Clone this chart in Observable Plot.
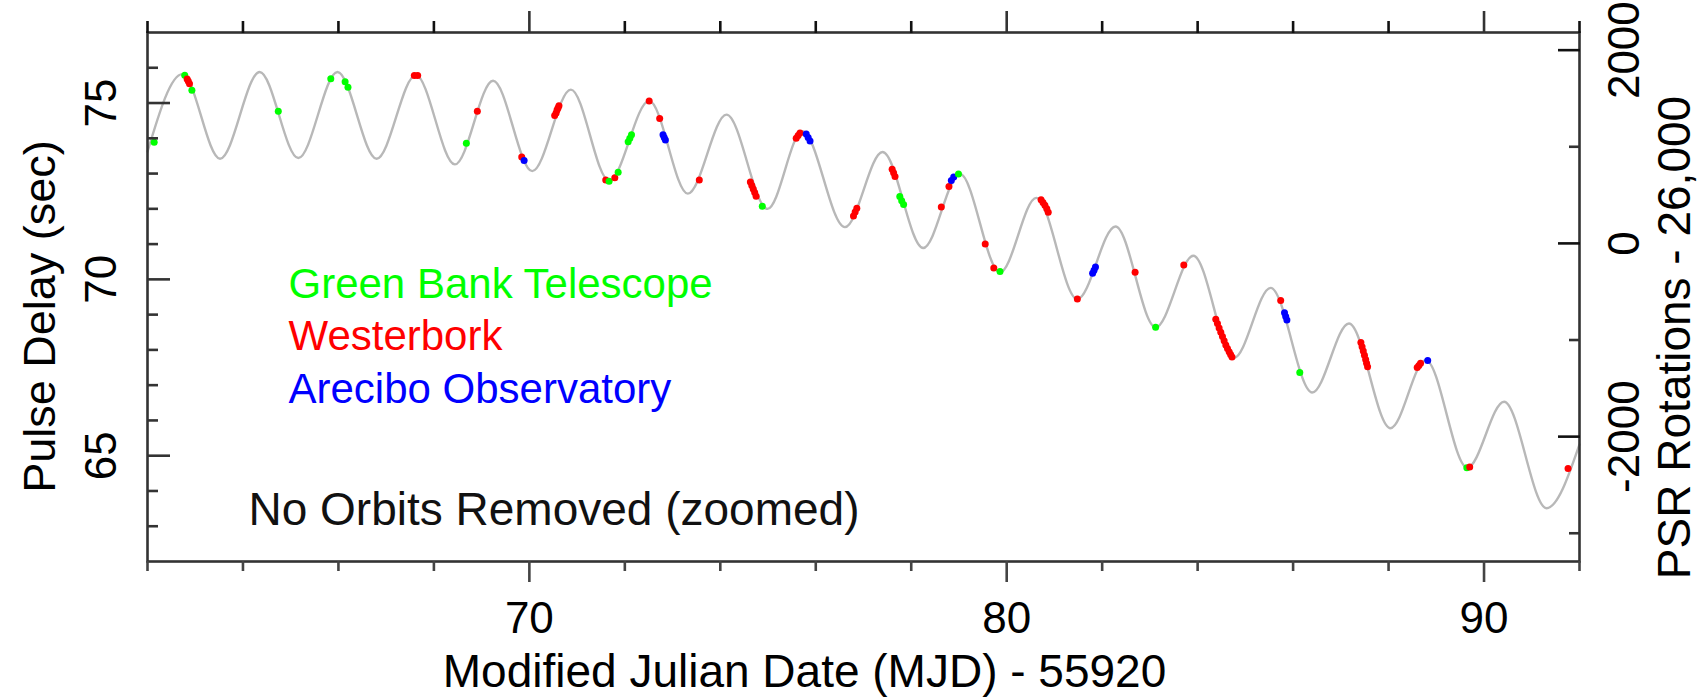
<!DOCTYPE html>
<html><head><meta charset="utf-8">
<script src="https://cdn.jsdelivr.net/npm/d3@7"></script>
<script src="https://cdn.jsdelivr.net/npm/@observablehq/plot@0.6"></script>
<style>html,body{margin:0;padding:0;background:#fff;}</style>
</head><body><div id="chart"></div>
<script>
// ---- data ----
// timing-model curve: extrema (days = MJD - 55920, pulse delay in s)
const curveDay = [62.00, 62.73, 63.52, 64.35, 65.16, 65.98, 66.80, 67.62, 68.44, 69.24, 70.06, 70.87, 71.67, 72.51, 73.32, 74.13, 74.99, 75.72, 76.61, 77.40, 78.25, 79.02, 79.86, 80.62, 81.48, 82.28, 83.12, 83.91, 84.76, 85.53, 86.40, 87.17, 88.04, 88.78, 89.65, 90.42, 91.31, 92.00];
const curveDelay = [73.62, 75.82, 73.42, 75.88, 73.44, 75.88, 73.42, 75.79, 73.26, 75.63, 73.07, 75.38, 72.80, 75.06, 72.43, 74.67, 72.00, 74.20, 71.48, 73.61, 70.89, 72.99, 70.20, 72.31, 69.44, 71.50, 68.64, 70.67, 67.77, 69.76, 66.79, 68.75, 65.78, 67.71, 64.66, 66.53, 63.51, 65.32];

// observations (G = Green Bank, W = Westerbork, A = Arecibo)
const obsDay = [62.14, 62.78, 62.83, 62.855, 62.88, 62.93, 64.74, 65.84, 66.14, 66.20, 67.59, 67.66, 68.68, 68.91, 69.84, 69.89, 70.53, 70.56, 70.58, 70.60, 70.62, 71.60, 71.67, 71.79, 71.86, 72.07, 72.105, 72.14, 72.51, 72.73, 72.80, 72.825, 72.85, 73.56, 74.63, 74.66, 74.69, 74.72, 74.75, 74.88, 75.59, 75.63, 75.67, 75.80, 75.84, 75.88, 76.79, 76.825, 76.86, 77.60, 77.63, 77.66, 77.76, 77.80, 77.84, 78.63, 78.79, 78.84, 78.89, 78.99, 79.55, 79.73, 79.86, 80.72, 80.76, 80.80, 80.84, 80.87, 81.48, 81.80, 81.83, 81.86, 82.69, 83.12, 83.71, 84.38, 84.415, 84.45, 84.485, 84.52, 84.555, 84.59, 84.625, 84.66, 84.69, 84.72, 85.74, 85.82, 85.845, 85.87, 86.14, 87.42, 87.445, 87.47, 87.495, 87.52, 87.54, 87.56, 88.60, 88.635, 88.67, 88.82, 89.64, 89.70, 91.76];
const obsDelay = [73.89, 75.79, 75.68, 75.62, 75.55, 75.36, 74.77, 75.69, 75.60, 75.45, 75.78, 75.78, 73.86, 74.77, 73.47, 73.37, 74.65, 74.72, 74.80, 74.86, 74.92, 72.82, 72.78, 72.88, 73.04, 73.90, 74.00, 74.10, 75.06, 74.56, 74.10, 74.02, 73.95, 72.82, 72.76, 72.66, 72.56, 72.46, 72.36, 72.07, 74.00, 74.08, 74.15, 74.12, 74.02, 73.92, 71.80, 71.91, 72.02, 73.12, 73.02, 72.92, 72.35, 72.23, 72.12, 72.05, 72.63, 72.80, 72.90, 72.99, 71.00, 70.32, 70.22, 72.26, 72.18, 72.10, 72.00, 71.90, 69.44, 70.17, 70.26, 70.35, 70.20, 68.64, 70.41, 68.87, 68.75, 68.62, 68.50, 68.38, 68.26, 68.14, 68.04, 67.95, 67.87, 67.80, 69.40, 69.05, 68.95, 68.85, 67.36, 68.21, 68.09, 67.97, 67.85, 67.73, 67.62, 67.52, 67.50, 67.56, 67.62, 67.70, 64.66, 64.68, 64.64];
const obsSite = ["G","G","W","W","W","G","G","G","G","G","W","W","G","W","W","A","W","W","W","W","W","W","G","W","G","G","G","G","W","W","A","A","A","W","W","W","W","W","W","G","W","W","W","A","A","A","W","W","W","W","W","W","G","G","G","W","W","A","A","G","W","W","G","W","W","W","W","W","W","A","A","A","W","G","W","W","W","W","W","W","W","W","W","W","W","W","W","A","A","A","G","W","W","W","W","W","W","W","W","W","W","A","G","W","W"];

const siteCodes = ["G", "W", "A"];
const siteNames = ["Green Bank Telescope", "Westerbork", "Arecibo Observatory"];
const siteColors = ["#00ff00", "#ff0000", "#0000ff"];

// axis ticks
const xMajor = [70, 80, 90];
const xMinor = [62, 64, 66, 68, 72, 74, 76, 78, 82, 84, 86, 88, 92];
const yMajor = [65, 70, 75];
const yMinor = [63, 64, 66, 67, 68, 69, 71, 72, 73, 74, 76];
const rotMajor = [2000, 0, -2000];
const rotMinor = [1000, -1000, -3000];
const rotZero = 71.02;      // delay (s) where rotations - 26,000 = 0
const rotPerSec = 365;      // pulsar rotations per second

// ---- layout ----
const W = 1708, H = 697;
const mL = 147, mR = 129, mT = 32, mB = 136;
const frameCx = mL + (W - mL - mR) / 2;
const frameCy = mT + (H - mT - mB) / 2;
const font = "'Liberation Sans', Arial, Helvetica, sans-serif";

const curve = curveDay.map((d, i) => ({day: d, delay: curveDelay[i]}));
const obs = obsDay.map((d, i) => ({day: d, delay: obsDelay[i], site: obsSite[i]}));
const toDelay = r => rotZero + r / rotPerSec;
const blank = () => "";

const chart = Plot.plot({
  width: W, height: H,
  marginLeft: mL, marginRight: mR, marginTop: mT, marginBottom: mB,
  style: {fontFamily: font, background: "#fff", color: "#000", overflow: "visible"},
  x: {domain: [62, 92]},
  y: {domain: [62, 77]},
  color: {domain: siteCodes, range: siteColors},
  marks: [
    Plot.line(curve, {x: "day", y: "delay", curve: "monotone-x", stroke: "#b8b8b8", strokeWidth: 2.4}),
    Plot.dot(obs, {x: "day", y: "delay", fill: "site", r: 3.5}),
    Plot.frame({stroke: "#333", strokeWidth: 2.6}),
    // bottom
    Plot.axisX({anchor: "bottom", ticks: xMajor, tickSize: 21, tickPadding: 19, tickFormat: d => String(d), fontSize: 44, strokeWidth: 2.6, stroke: "#444", fill: "#000", label: null}),
    Plot.axisX({anchor: "bottom", ticks: xMinor, tickSize: 10, tickFormat: blank, strokeWidth: 2.6, stroke: "#444", label: null}),
    // top
    Plot.axisX({anchor: "top", ticks: xMajor, tickSize: 22, tickFormat: blank, strokeWidth: 2.6, stroke: "#333", label: null}),
    Plot.axisX({anchor: "top", ticks: xMinor, tickSize: 12, tickFormat: blank, strokeWidth: 2.6, stroke: "#111", label: null}),
    // left (inward ticks)
    Plot.axisY({anchor: "left", ticks: yMajor, tickSize: -23, tickPadding: 55, tickRotate: -90, tickFormat: d => String(d), fontSize: 44, strokeWidth: 2.6, stroke: "#333", fill: "#000", label: null}),
    Plot.axisY({anchor: "left", ticks: yMinor, tickSize: -11, tickFormat: blank, strokeWidth: 2.6, stroke: "#333", label: null}),
    // right (inward ticks, PSR rotations)
    Plot.axisY({anchor: "right", ticks: rotMajor.map(toDelay), tickSize: -22, tickPadding: 81, tickRotate: -90, tickFormat: (d, i) => String(rotMajor[i]), fontSize: 44, strokeWidth: 2.6, stroke: "#111", fill: "#000", label: null}),
    Plot.axisY({anchor: "right", ticks: rotMinor.map(toDelay), tickSize: -11, tickFormat: blank, strokeWidth: 2.6, stroke: "#333", label: null}),
    // axis titles
    Plot.text(["Pulse Delay (sec)"], {frameAnchor: "left", dx: 54 - mL, dy: 316 - frameCy, rotate: -90, textAnchor: "middle", lineAnchor: "bottom", fontSize: 45, fill: "#000"}),
    Plot.text(["Modified Julian Date (MJD) - 55920"], {frameAnchor: "bottom", dx: 804 - frameCx, dy: 686 - (H - mB), textAnchor: "middle", lineAnchor: "bottom", fontSize: 46, fill: "#000"}),
    Plot.text(["PSR Rotations - 26,000"], {frameAnchor: "right", dx: 1689 - (W - mR), dy: 337 - frameCy, rotate: -90, textAnchor: "middle", lineAnchor: "bottom", fontSize: 46, fill: "#000"}),
    // legend
    ...siteNames.map((name, i) => Plot.text([name], {frameAnchor: "top-left", dx: 141, dy: 265 + i * 52.5, textAnchor: "start", lineAnchor: "bottom", fontSize: 42, fill: siteColors[i]})),
    Plot.text(["No Orbits Removed (zoomed)"], {frameAnchor: "bottom-left", dx: 101, dy: 524 - (H - mB), textAnchor: "start", lineAnchor: "bottom", fontSize: 46, fill: "#111"})
  ]
});
document.getElementById("chart").appendChild(chart);
</script></body></html>
